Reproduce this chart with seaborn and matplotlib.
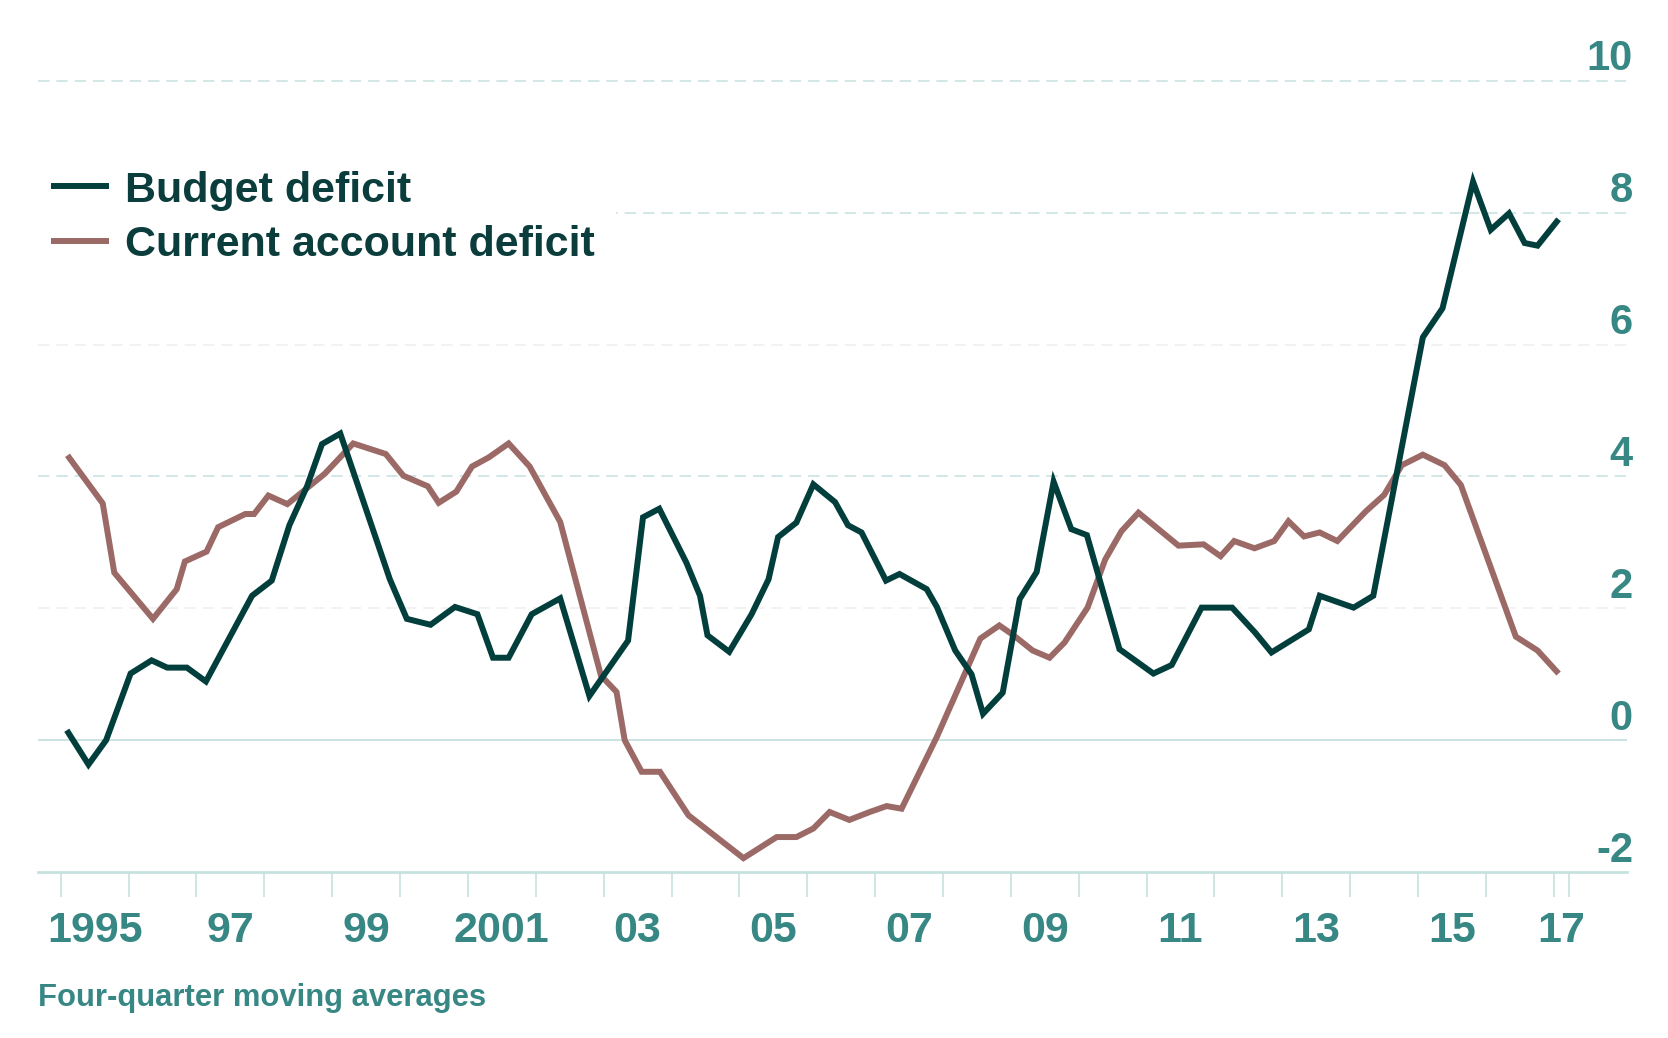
import numpy as np
import pandas as pd
import matplotlib
matplotlib.use("Agg")
import matplotlib.pyplot as plt
import seaborn as sns
from matplotlib.transforms import ScaledTranslation

# ---------------- data ----------------
budget_years = [1995.09, 1995.41, 1995.67, 1996.03, 1996.34, 1996.57, 1996.86, 1997.14, 1997.82, 1998.11,
                1998.37, 1998.63, 1998.85, 1999.12, 1999.85, 2000.10, 2000.45, 2000.81, 2001.14, 2001.37,
                2001.60, 2001.94, 2002.36, 2002.79, 2003.36, 2003.58, 2003.82, 2004.22, 2004.42, 2004.53,
                2004.85, 2005.18, 2005.43, 2005.57, 2005.84, 2006.09, 2006.41, 2006.60, 2006.80, 2007.16,
                2007.36, 2007.76, 2007.91, 2008.18, 2008.42, 2008.59, 2008.88, 2009.13, 2009.38, 2009.63,
                2009.89, 2010.12, 2010.60, 2011.10, 2011.37, 2011.81, 2012.26, 2012.60, 2012.84, 2013.39,
                2013.55, 2014.05, 2014.34, 2015.07, 2015.36, 2015.81, 2016.07, 2016.34, 2016.57, 2016.76,
                2017.07]
budget_deficit = [0.15, -0.37, 0.00, 1.01, 1.21, 1.10, 1.10, 0.89, 2.19, 2.42,
                  3.26, 3.85, 4.49, 4.65, 2.44, 1.84, 1.75, 2.02, 1.91, 1.25,
                  1.25, 1.91, 2.15, 0.67, 1.51, 3.38, 3.51, 2.69, 2.19, 1.59,
                  1.34, 1.91, 2.44, 3.08, 3.30, 3.88, 3.61, 3.26, 3.15, 2.42,
                  2.52, 2.29, 2.02, 1.36, 1.00, 0.40, 0.72, 2.14, 2.55, 3.92,
                  3.20, 3.11, 1.38, 1.01, 1.14, 2.01, 2.01, 1.63, 1.33, 1.68,
                  2.19, 2.01, 2.19, 6.11, 6.55, 8.47, 7.74, 7.99, 7.54, 7.50,
                  7.90]

current_years = [1995.10, 1995.62, 1995.79, 1996.36, 1996.71, 1996.83, 1997.15, 1997.32, 1997.72, 1997.85,
                 1998.06, 1998.34, 1998.89, 1999.31, 1999.79, 2000.05, 2000.41, 2000.57, 2000.83, 2001.06,
                 2001.31, 2001.60, 2001.91, 2002.36, 2002.96, 2003.19, 2003.31, 2003.56, 2003.83, 2004.25,
                 2005.06, 2005.55, 2005.84, 2006.09, 2006.33, 2006.62, 2006.92, 2007.17, 2007.39, 2007.91,
                 2008.55, 2008.83, 2009.04, 2009.32, 2009.57, 2009.79, 2010.13, 2010.39, 2010.63, 2010.88,
                 2011.47, 2011.84, 2012.09, 2012.29, 2012.59, 2012.88, 2013.09, 2013.32, 2013.55, 2013.81,
                 2014.23, 2014.50, 2014.76, 2015.07, 2015.39, 2015.63, 2016.44, 2016.76, 2017.07]
current_account_deficit = [4.32, 3.59, 2.54, 1.84, 2.29, 2.71, 2.86, 3.23, 3.43, 3.43,
                           3.71, 3.58, 4.04, 4.50, 4.34, 4.01, 3.85, 3.60, 3.77, 4.15,
                           4.29, 4.50, 4.15, 3.31, 0.98, 0.73, 0.00, -0.48, -0.48, -1.14,
                           -1.79, -1.47, -1.47, -1.34, -1.09, -1.21, -1.09, -1.00, -1.04, 0.05,
                           1.54, 1.74, 1.59, 1.36, 1.25, 1.48, 2.01, 2.74, 3.17, 3.45,
                           2.95, 2.97, 2.79, 3.02, 2.91, 3.02, 3.32, 3.09, 3.15, 3.02,
                           3.47, 3.72, 4.17, 4.33, 4.17, 3.87, 1.57, 1.36, 1.01]

series_names = ["Budget deficit", "Current account deficit"]
year_ticks = list(range(1995, 2018)) + [2017.22]
year_label_pos = [1995.5, 1997.5, 1999.5, 2001.5, 2003.5, 2005.5, 2007.5, 2009.5,
                  2011.5, 2013.5, 2015.5, 2017.11]
year_labels = ["1995", "97", "99", "2001", "03", "05", "07", "09", "11", "13", "15", "17"]
y_ticks = [-2, 0, 2, 4, 6, 8, 10]
y_labels = ["-2", "0", "2", "4", "6", "8", "10"]
subtitle = "Four-quarter moving averages"

# ---------------- style ----------------
DARK = "#023f3c"
PINK = "#9b6a66"
TEAL_TXT = "#378784"
GRID_TEAL = "#c6e2df"
GRID_GREY = "#efefef"
LEGEND_TXT = "#0b3d3c"

sns.set_theme(style="white")
plt.rcParams["font.family"] = ["Liberation Sans", "DejaVu Sans"]
plt.rcParams["font.weight"] = "bold"

W, H = 1668, 1038
fig = plt.figure(figsize=(W / 100, H / 100), dpi=100)
fig.patch.set_facecolor("white")
ax_left, ax_right = 38, 1627
ax_bottom_px, ax_top_px = 872, 28.1
ax = fig.add_axes([ax_left / W, 1 - ax_bottom_px / H,
                   (ax_right - ax_left) / W, (ax_bottom_px - ax_top_px) / H])
ax.set_facecolor("white")

df_b = pd.DataFrame({"year": budget_years, "value": budget_deficit})
df_c = pd.DataFrame({"year": current_years, "value": current_account_deficit})

sns.lineplot(data=df_c, x="year", y="value", ax=ax, color=PINK, linewidth=4.3,
             estimator=None, label=series_names[1], zorder=3,
             solid_joinstyle="miter", solid_capstyle="butt")
sns.lineplot(data=df_b, x="year", y="value", ax=ax, color=DARK, linewidth=4.3,
             estimator=None, label=series_names[0], zorder=4,
             solid_joinstyle="miter", solid_capstyle="butt")

ax.set_xlim(1994.666, 2018.078)
ax.set_ylim(-2, 10.8)
ax.set_xlabel("")
ax.set_ylabel("")

# gridlines
for v in y_ticks[1:]:
    if v == 0:
        ax.axhline(v, color=GRID_TEAL, lw=1.3, zorder=0.5)
    else:
        c = GRID_TEAL if v in (4, 8, 10) else GRID_GREY
        ax.axhline(v, color=c, lw=1.1, ls=(0, (7.5, 4.5)), zorder=0.5)

for s in ["top", "left", "right"]:
    ax.spines[s].set_visible(False)
ax.spines["bottom"].set_color(GRID_TEAL)
ax.spines["bottom"].set_linewidth(2.0)

# x axis
ax.set_xticks(year_ticks)
ax.set_xticklabels([""] * len(year_ticks))
ax.set_xticks(year_label_pos, labels=year_labels, minor=True)
ax.tick_params(axis="x", which="major", bottom=True, direction="out", length=18,
               width=1.2, color=GRID_TEAL)
ax.tick_params(axis="x", which="minor", bottom=True, length=0, pad=28,
               labelsize=31, labelcolor=TEAL_TXT)
for lab in ax.get_xticklabels(minor=True):
    lab.set_fontweight("bold")

# y axis (labels on the right, sitting above their gridlines)
ax.yaxis.tick_right()
ax.set_yticks(y_ticks)
ax.set_yticklabels(y_labels)
ax.tick_params(axis="y", which="both", left=False, right=False, length=0, pad=4.3,
               labelsize=30, labelcolor=TEAL_TXT, labelleft=False, labelright=True)
off = ScaledTranslation(0, 10.5 / 100, fig.dpi_scale_trans)
for lab in ax.get_yticklabels():
    lab.set_horizontalalignment("right")
    lab.set_verticalalignment("baseline")
    lab.set_fontweight("bold")
    lab.set_transform(lab.get_transform() + off)

# legend
h, l = ax.get_legend_handles_labels()
order = [l.index(series_names[0]), l.index(series_names[1])]
leg = ax.legend([h[i] for i in order], [l[i] for i in order],
                loc="upper left", bbox_to_anchor=(29.5 / W, 1 - 149 / H),
                bbox_transform=fig.transFigure, borderaxespad=0,
                frameon=True, facecolor="white", edgecolor="none", framealpha=1,
                fancybox=False, prop={"size": 31, "weight": "bold"},
                handlelength=1.34, handletextpad=0.38, labelspacing=0.33,
                borderpad=0.5, labelcolor=LEGEND_TXT)
leg.set_zorder(5)

# subtitle
fig.text(38 / W, 1 - 998 / H, subtitle, fontsize=22.3, fontweight="bold",
         color=TEAL_TXT, ha="left", va="center")

fig.savefig("out.png", dpi=100, facecolor="white")
